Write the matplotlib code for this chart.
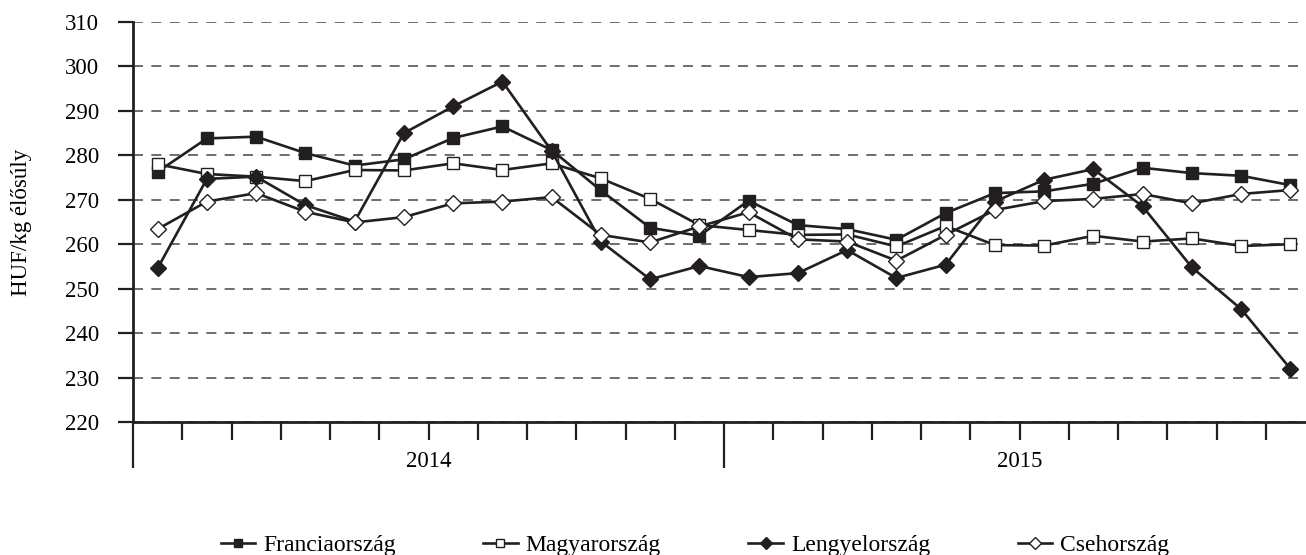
import matplotlib.pyplot as plt
import numpy as np

plt.rcParams['font.family'] = ['Liberation Serif', 'DejaVu Serif']

# monthly prices, HUF/kg live weight, Jan 2014 - Dec 2015
years = ["2014", "2015"]
francia = [276.3, 283.8, 284.2, 280.5, 277.7, 279.1, 283.9, 286.5, 281.2, 272.1, 263.7, 261.9,
           269.8, 264.3, 263.4, 261.0, 267.0, 271.5, 271.9, 273.6, 277.2, 276.0, 275.4, 273.3]
magyar = [278.0, 275.8, 275.2, 274.2, 276.7, 276.6, 278.2, 276.7, 278.2, 274.8, 270.2, 264.3,
          263.2, 262.1, 262.2, 259.5, 264.1, 259.8, 259.7, 261.9, 260.6, 261.3, 259.6, 260.0]
lengyel = [254.6, 274.7, 275.2, 268.8, 265.1, 285.0, 291.0, 296.6, 281.0, 260.6, 252.1, 255.1,
           252.6, 253.5, 258.7, 252.4, 255.4, 269.6, 274.5, 276.9, 268.5, 254.8, 245.4, 232.0]
cseh = [263.4, 269.6, 271.5, 267.3, 264.9, 266.1, 269.2, 269.6, 270.6, 262.1, 260.4, 264.0,
        267.2, 261.1, 260.6, 256.3, 262.1, 267.7, 269.7, 270.2, 271.3, 269.2, 271.3, 272.2]

ink = "#231f20"
W, H = 1306, 555
fig = plt.figure(figsize=(W / 100, H / 100), dpi=100)
ax = fig.add_axes([133 / W, 1 - 422 / H, (1315 - 133) / W, 400 / H])

x = np.arange(len(francia))
style = dict(color=ink, lw=1.9, markeredgecolor=ink, markeredgewidth=1.0)
ax.plot(x, francia, marker="s", ms=8, mfc=ink, label="Franciaország", **style)
ax.plot(x, magyar, marker="s", ms=8, mfc="white", label="Magyarország", **style)
ax.plot(x, lengyel, marker="D", ms=8.5, mfc=ink, label="Lengyelország", **style)
ax.plot(x, cseh, marker="D", ms=8.5, mfc="white", label="Csehország", **style)

ax.set_xlim(-0.5, 23.5)
ax.set_ylim(220, 310)
ax.set_yticks(np.arange(220, 311, 10))
ax.yaxis.grid(True, color="#555555", lw=1.2, linestyle=(0, (6, 5)))
ax.set_axisbelow(True)

for s in ["top", "right", "left"]:
    ax.spines[s].set_visible(False)
ax.spines["bottom"].set_color(ink)
ax.spines["bottom"].set_linewidth(2)
ax.axvline(-0.5, color=ink, lw=2, clip_on=False)

ax.tick_params(axis="y", length=11, width=1.6, color=ink, pad=13.5, labelsize=16.5)
ax.set_xticks([-0.5, 11.5, 23.5])
ax.set_xticks([k - 0.5 for k in range(1, 24) if k != 12], minor=True)
ax.tick_params(axis="x", which="major", length=33, width=1.6, color=ink, labelbottom=False)
ax.tick_params(axis="x", which="minor", length=13, width=1.6, color=ink)

for i, yr in enumerate(years):
    ax.text(5.5 + 12 * i, -0.098, yr, transform=ax.get_xaxis_transform(),
            ha="center", va="center", fontsize=16.5)

fig.text(22 / W, 1 - 222 / H, "HUF/kg élősúly", rotation=90, ha="center", va="center",
         fontsize=16.5)

fig.legend(loc="center", bbox_to_anchor=(695 / W, 1 - 545 / H), ncol=4, frameon=False,
           fontsize=17, handlelength=1.45, handletextpad=0.35, columnspacing=3.7,
           markerscale=0.75)

fig.savefig("out.png", dpi=100)
